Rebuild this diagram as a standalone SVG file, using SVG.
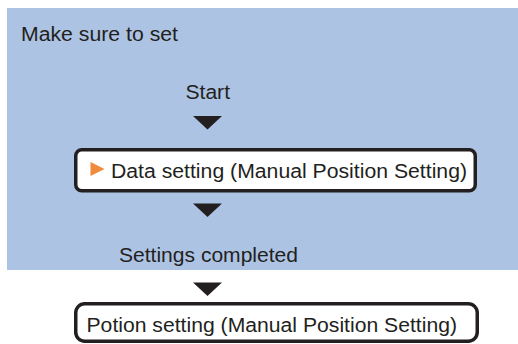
<svg xmlns="http://www.w3.org/2000/svg" width="518" height="344" viewBox="0 0 518 344">
<style>
.t{font-family:"Liberation Sans",Arial,sans-serif;font-size:20px;fill:#231f20}
.box{fill:#fff;stroke:#231f20;stroke-width:3.5}
.arr{fill:#231f20}
</style>
<rect x="7" y="8" width="511" height="262" fill="#adc3e3"/>
<text class="t" x="21" y="40.5" textLength="157" lengthAdjust="spacingAndGlyphs">Make sure to set</text>
<g id="start"><text class="t" x="185.5" y="99" textLength="44.5" lengthAdjust="spacingAndGlyphs">Start</text></g>
<g id="data">
<rect class="box" x="75.75" y="149.75" width="399.5" height="41" rx="6"/>
<polygon points="90.5,162 104.5,169 90.5,176" fill="#f08a3c"/>
<text class="t" x="111" y="177.5" textLength="356" lengthAdjust="spacingAndGlyphs">Data setting (Manual Position Setting)</text>
</g>
<g id="completed"><text class="t" x="119" y="262" textLength="179" lengthAdjust="spacingAndGlyphs">Settings completed</text></g>
<g id="potion">
<rect class="box" x="75.75" y="303.75" width="401.5" height="37.5" rx="9"/>
<text class="t" x="86.5" y="331.5" textLength="370.5" lengthAdjust="spacingAndGlyphs">Potion setting (Manual Position Setting)</text>
</g>
<g id="connectors">
<polygon class="arr" points="193,116 222,116 207.5,129.5"/>
<polygon class="arr" points="193,203.5 222,203.5 207.5,217"/>
<polygon class="arr" points="193,282.5 222,282.5 207.5,296"/>
</g>
</svg>
